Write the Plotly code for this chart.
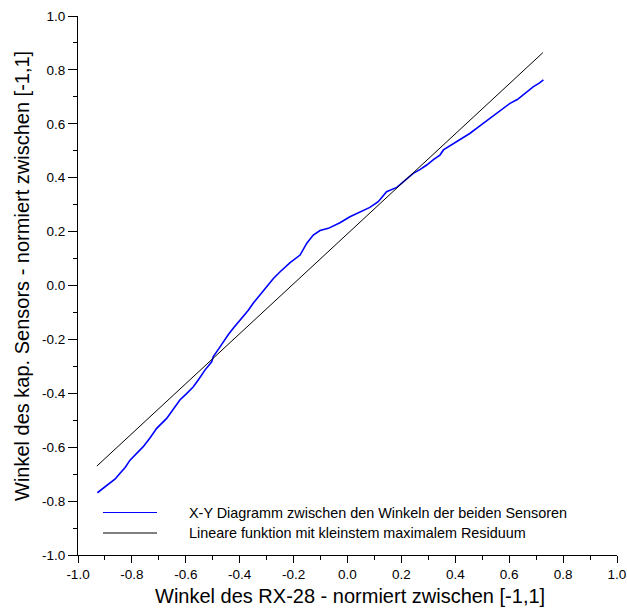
import plotly.graph_objects as go

# Blue X-Y curve
xy_x = [-0.928, -0.905, -0.881, -0.862, -0.844, -0.825, -0.807, -0.782, -0.758, -0.733,
        -0.708, -0.671, -0.645, -0.622, -0.597, -0.572, -0.550, -0.529,
        -0.504, -0.498, -0.480, -0.461, -0.442, -0.424, -0.405, -0.387, -0.368, -0.350,
        -0.325, -0.300, -0.275, -0.250, -0.213, -0.176,
        -0.151, -0.127, -0.102, -0.071, -0.050, -0.028, 0.009, 0.046, 0.083, 0.114,
        0.145, 0.183, 0.207, 0.244, 0.270, 0.294, 0.320, 0.343, 0.356, 0.380, 0.405, 0.430,
        0.455, 0.480, 0.504, 0.530, 0.554, 0.580, 0.603, 0.630, 0.652, 0.670, 0.690, 0.710, 0.727]
xy_y = [-0.769, -0.751, -0.734, -0.718, -0.697, -0.675, -0.648, -0.624, -0.598, -0.566,
        -0.530, -0.493, -0.458, -0.425, -0.401, -0.376, -0.345, -0.314,
        -0.283, -0.264, -0.238, -0.209, -0.182, -0.159, -0.137, -0.116, -0.092, -0.066,
        -0.036, -0.004, 0.026, 0.051, 0.085, 0.113,
        0.157, 0.187, 0.204, 0.212, 0.222, 0.233, 0.255, 0.274, 0.290, 0.311,
        0.348, 0.364, 0.385, 0.416, 0.431, 0.447, 0.468, 0.484, 0.503, 0.518, 0.534, 0.549,
        0.565, 0.584, 0.602, 0.622, 0.639, 0.656, 0.676, 0.690, 0.707, 0.724, 0.738, 0.750, 0.763]

# Linear function endpoints
lin_x = [-0.93, 0.725]
lin_y = [-0.67, 0.864]

tick_vals = [-1.0, -0.8, -0.6, -0.4, -0.2, 0.0, 0.2, 0.4, 0.6, 0.8, 1.0]
tick_text = ["-1.0", "-0.8", "-0.6", "-0.4", "-0.2", "0.0", "0.2", "0.4", "0.6", "0.8", "1.0"]

legend_labels = ["X-Y Diagramm zwischen den Winkeln der beiden Sensoren",
                 "Lineare funktion mit kleinstem maximalem Residuum"]
legend_colors = ["#0000ff", "#000000"]

x_title = "Winkel des RX-28 - normiert zwischen [-1,1]"
y_title = "Winkel des kap. Sensors - normiert zwischen [-1,1]"

FONT = "Liberation Sans, Arial, sans-serif"

W, H = 627, 610
L, T = 78, 16
R = W - 617
B = H - 555
pw, ph = W - L - R, H - T - B

def px2paper_x(px):
    return (px - L) / pw

def py2paper_y(py):
    return 1 - (py - T) / ph

fig = go.Figure()
fig.add_trace(go.Scatter(x=xy_x, y=xy_y, mode="lines",
                         line=dict(color=legend_colors[0], width=1.6),
                         name=legend_labels[0], showlegend=False))
fig.add_trace(go.Scatter(x=lin_x, y=lin_y, mode="lines",
                         line=dict(color=legend_colors[1], width=1),
                         name=legend_labels[1], showlegend=False))

shapes = []
annotations = []
for i, (lab, col) in enumerate(zip(legend_labels, legend_colors)):
    yy = py2paper_y(512.5 + i * 20.5)
    shapes.append(dict(type="line", xref="paper", yref="paper",
                       x0=px2paper_x(103), x1=px2paper_x(157), y0=yy, y1=yy,
                       line=dict(color=col, width=1)))
    annotations.append(dict(xref="paper", yref="paper", x=px2paper_x(187), y=yy,
                            text=lab, showarrow=False, xanchor="left", yanchor="middle",
                            font=dict(family=FONT, size=14.4, color="#000")))

annotations.append(dict(xref="paper", yref="paper", x=px2paper_x(350), y=py2paper_y(596),
                        text=x_title, showarrow=False, xanchor="center", yanchor="middle",
                        font=dict(family=FONT, size=20, color="#000")))
annotations.append(dict(xref="paper", yref="paper", x=px2paper_x(22), y=py2paper_y(276),
                        text=y_title, showarrow=False, xanchor="center", yanchor="middle",
                        textangle=-90, font=dict(family=FONT, size=20, color="#000")))

axis_common = dict(range=[-1, 1], showgrid=False, zeroline=False, showline=True,
                   linecolor="#000", linewidth=1, ticks="outside", tickcolor="#000",
                   tickwidth=1, tickmode="array", tickvals=tick_vals, ticktext=tick_text,
                   tickfont=dict(family=FONT, size=13.5, color="#000"),
                   minor=dict(ticks="outside", dtick=0.1, tick0=-1, ticklen=4,
                              tickcolor="#000", tickwidth=1),
                   mirror=False, fixedrange=True, automargin=False)

fig.update_layout(
    width=W, height=H,
    margin=dict(l=L, r=R, t=T, b=B, pad=0),
    paper_bgcolor="white", plot_bgcolor="white",
    font=dict(family=FONT, color="#000"),
    xaxis=dict(**axis_common, ticklen=7),
    yaxis=dict(**axis_common, ticklen=9),
    shapes=shapes, annotations=annotations,
    hovermode=False,
)

fig.write_html("out.html",
               config={"displayModeBar": False, "staticPlot": True},
               post_script="document.documentElement.style.margin='0';"
                           "document.body.style.margin='0';"
                           "document.body.style.overflow='hidden';")
